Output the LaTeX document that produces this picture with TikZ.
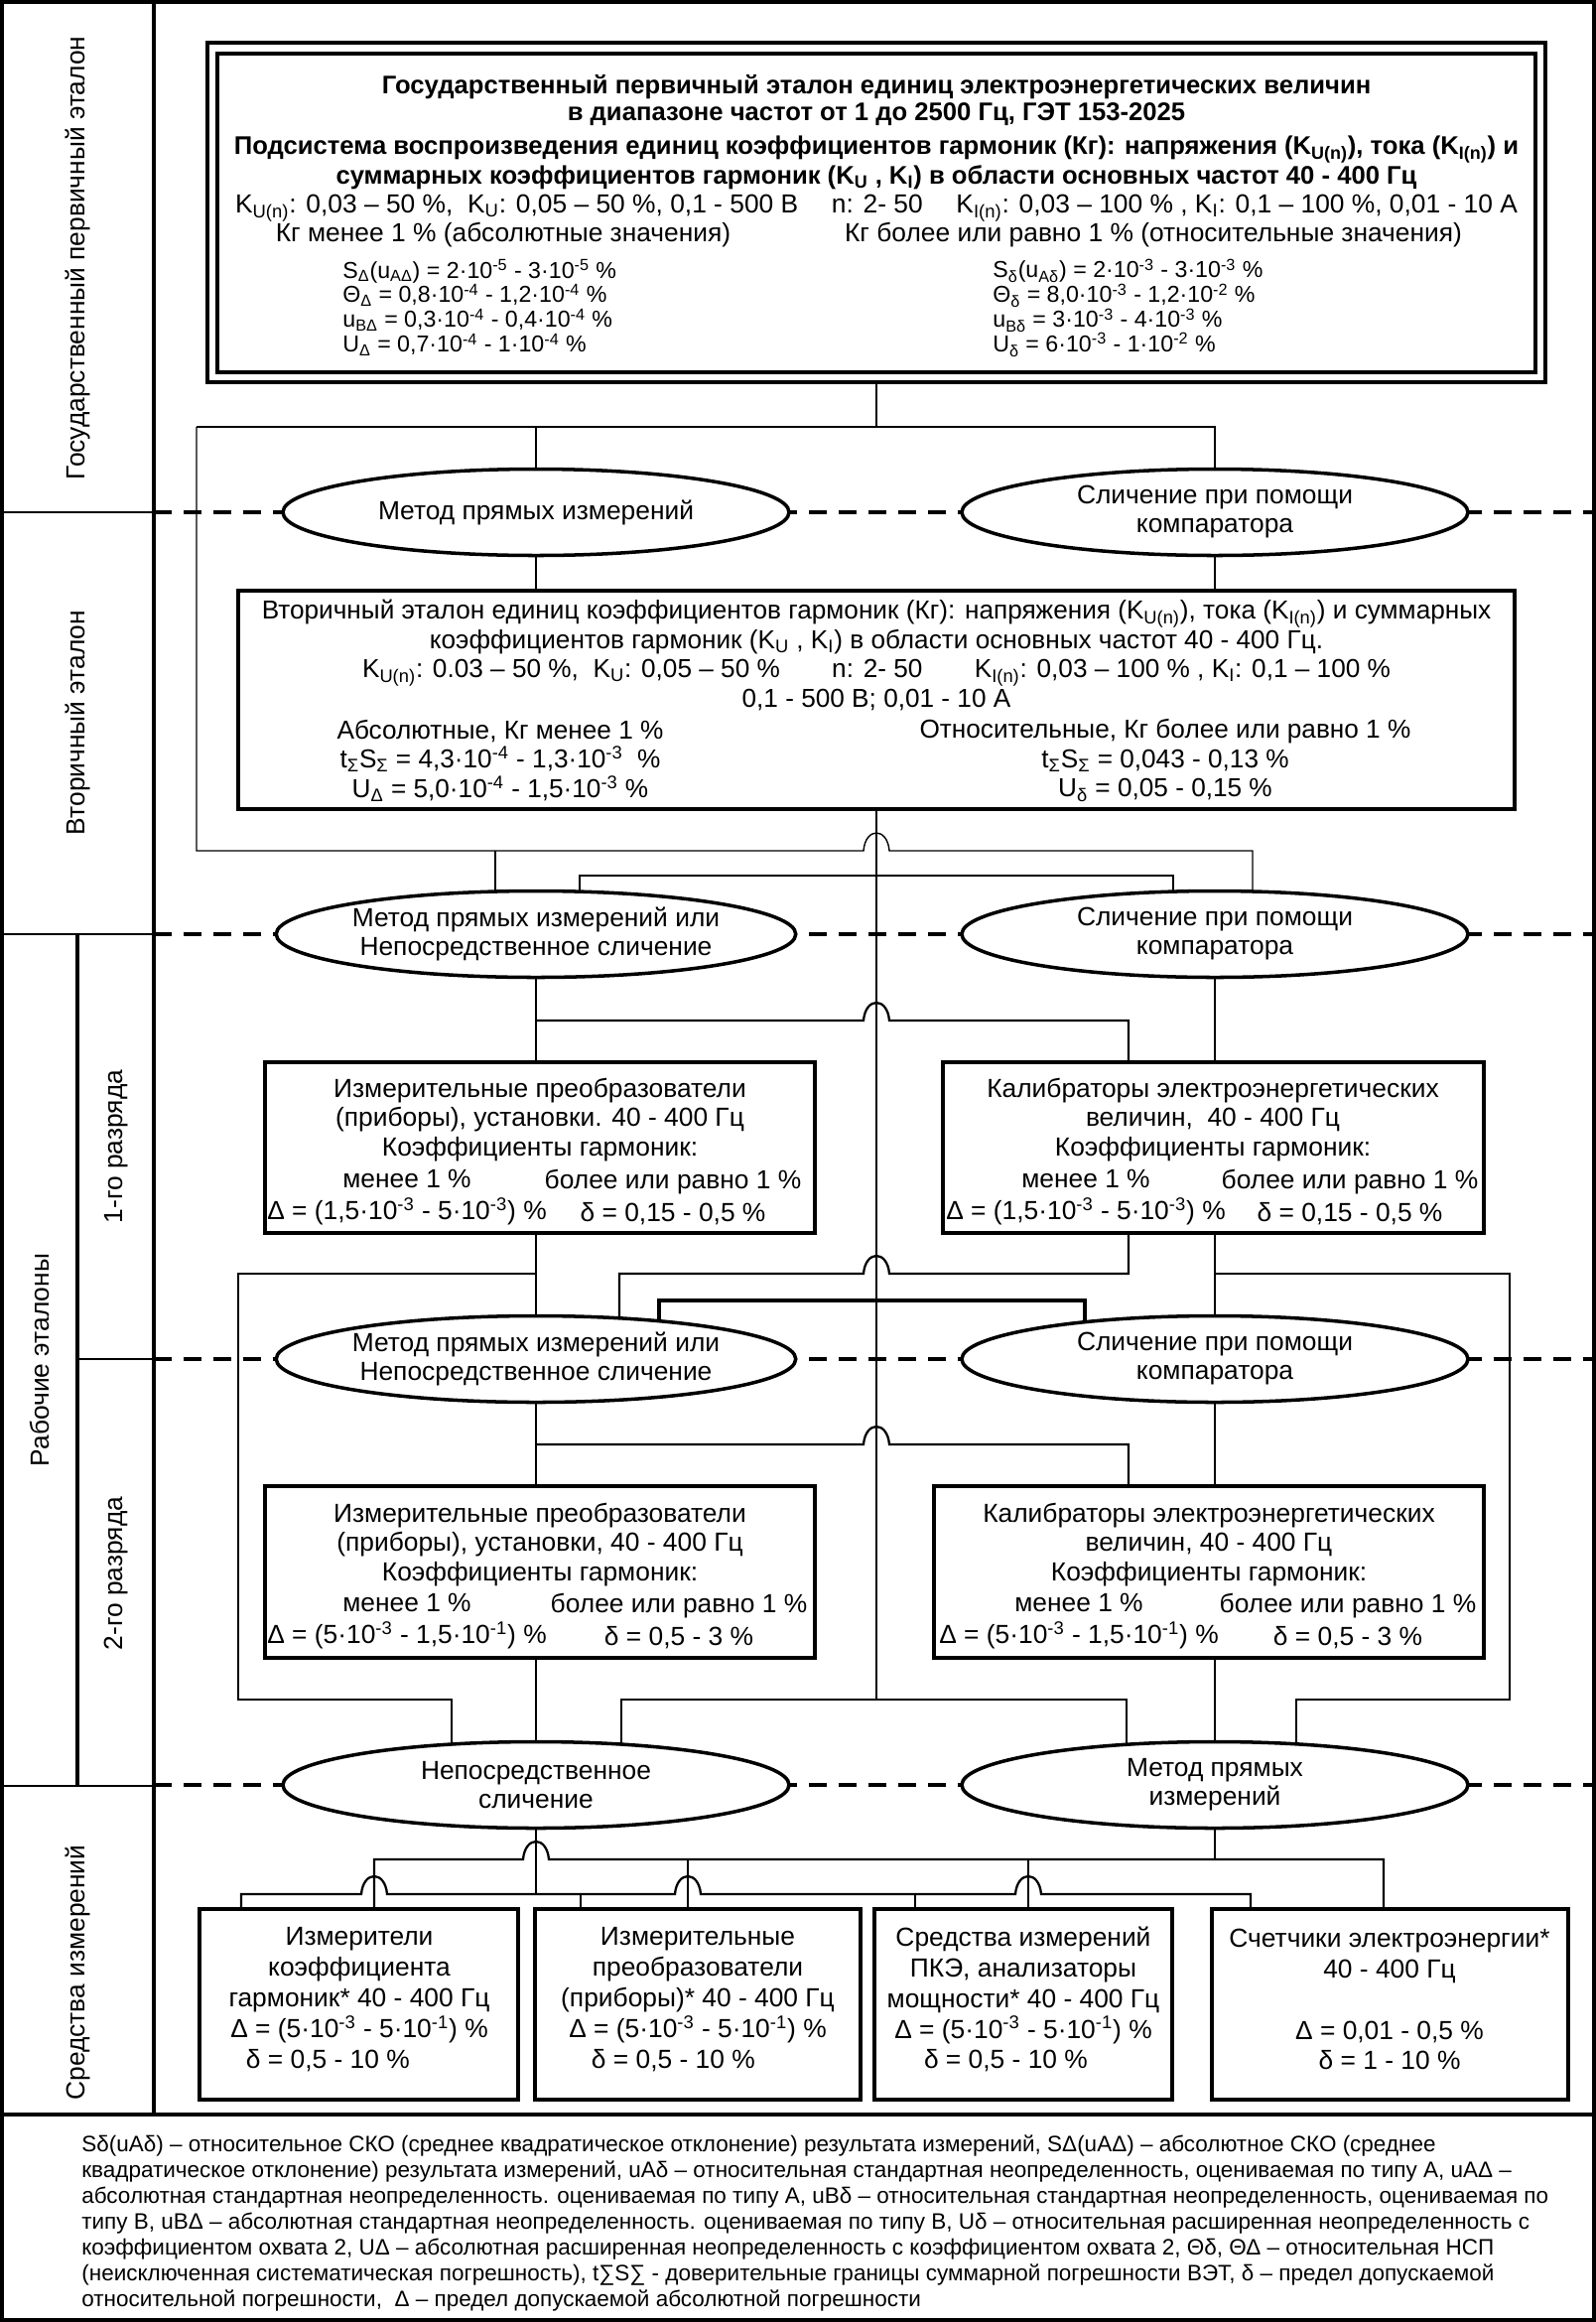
\documentclass[tikz,border=0pt]{standalone}
\usepackage{fontspec}
\setmainfont{Liberation Sans}
\usepackage{tikz}
\usetikzlibrary{calc,positioning,shapes.geometric,fit,backgrounds}

\newcommand{\supr}[1]{\textsuperscript{#1}}
\newcommand{\subr}[1]{\textsubscript{#1}}
% bridge of a horizontal line over a vertical one at (#1,#2)
\newcommand{\hopx}[2]{-- ({#1-13},#2) .. controls ({#1-11},{#2-24}) and ({#1+11},{#2-24}) .. ({#1+13},#2)}

\begin{document}
\begin{tikzpicture}[x=0.2mm, y=-0.2mm,
    every node/.style={inner sep=0pt, font=\fontsize{15}{17}\selectfont},
    txt/.style={align=center},
    stdbox/.style={draw, line width=2.4pt, fill=white},
    method/.style={draw, ellipse, line width=2pt, fill=white, align=center,
        minimum width=102mm, minimum height=17.4mm, font=\fontsize{15}{16.5}\selectfont},
    level/.style={rotate=90, font=\fontsize{15}{17}\selectfont},
    link/.style={line width=0.8pt},
    bus/.style={line width=1.3pt},
    boldbus/.style={line width=2pt},
    rowsep/.style={line width=2pt, dash pattern=on 3.6mm off 2.4mm},
    outline/.style={line width=1.8pt}]

    \useasboundingbox (0,0) rectangle (1608,2339);

    % table frame
    \draw[outline] (2,2) rectangle (1606,2337);
    \draw[line width=2.6pt] (155,0) -- (155,2130);
    \draw[line width=2.6pt] (0,2130) -- (1608,2130);
    \draw[link] (0,516) -- (155,516);
    \draw[link] (0,941) -- (155,941);
    \draw[link] (0,1799) -- (155,1799);
    \draw[link] (78,1369) -- (155,1369);
    \draw[line width=2.6pt] (78,941) -- (78,1799);

    % level labels
    \node[level] (lvP) at (78,260) {Государственный первичный эталон};
    \node[level] (lvS) at (78,728) {Вторичный эталон};
    \node[level] (lvW) at (40,1370) {Рабочие эталоны};
    \node[level] (lv1) at (117,1155) {1-го разряда};
    \node[level] (lv2) at (117,1585) {2-го разряда};
    \node[level] (lvM) at (78,1987) {Средства измерений};

    % primary standard
    \node[draw, outline, fill=white, fit={(209,43) (1557,385)}] (Pout) {};
    \node[stdbox, fit={(219,54) (1547,375)}] (P) {};
    \node[txt, font=\bfseries\fontsize{14.6}{15.2}\selectfont] (Ptitle) at (883,101)
        {Государственный первичный эталон единиц электроэнергетических величин\\
         в диапазоне частот от 1 до 2500 Гц, ГЭТ 153-2025};
    \node[txt, font=\bfseries\fontsize{14.6}{16.8}\selectfont] (Psub) at (883,164)
        {Подсистема воспроизведения единиц коэффициентов гармоник (Кг): напряжения (K\subr{U(n)}), тока (K\subr{I(n)}) и\\
         суммарных коэффициентов гармоник (K\subr{U} , K\subr{I}) в области основных частот 40 - 400 Гц};
    \node[font=\fontsize{15}{16}\selectfont] (Prng) at (883,210)
        {K\subr{U(n)}: 0,03 – 50 \%,\ \ K\subr{U}: 0,05 – 50 \%, 0,1 - 500 В\quad\ n: 2- 50\quad\ K\subr{I(n)}: 0,03 – 100 \% , K\subr{I}: 0,1 – 100 \%, 0,01 - 10 А};
    \node[font=\fontsize{15}{16}\selectfont] (Pabs) at (507,237) {Кг менее 1 \% (абсолютные значения)};
    \node[font=\fontsize{15}{16}\selectfont] (Prel) at (1162,237) {Кг более или равно 1 \% (относительные значения)};
    \node[anchor=west, align=left, font=\fontsize{13.2}{14.2}\selectfont] (Pabsv) at (345,310)
        {S\subr{Δ}(u\subr{AΔ}) = 2·10\supr{-5} - 3·10\supr{-5} \%\\
         Θ\subr{Δ} = 0,8·10\supr{-4} - 1,2·10\supr{-4} \%\\
         u\subr{BΔ} = 0,3·10\supr{-4} - 0,4·10\supr{-4} \%\\
         U\subr{Δ} = 0,7·10\supr{-4} - 1·10\supr{-4} \%};
    \node[anchor=west, align=left, font=\fontsize{13.2}{14.2}\selectfont] (Prelv) at (1000,310)
        {S\subr{δ}(u\subr{Aδ}) = 2·10\supr{-3} - 3·10\supr{-3} \%\\
         Θ\subr{δ} = 8,0·10\supr{-3} - 1,2·10\supr{-2} \%\\
         u\subr{Bδ} = 3·10\supr{-3} - 4·10\supr{-3} \%\\
         U\subr{δ} = 6·10\supr{-3} - 1·10\supr{-2} \%};

    % secondary standard
    \node[stdbox, fit={(240,595) (1526,815)}] (S) {};
    \node[txt, font=\fontsize{14.9}{16.8}\selectfont] (Stitle) at (883,660)
        {Вторичный эталон единиц коэффициентов гармоник (Кг): напряжения (K\subr{U(n)}), тока (K\subr{I(n)}) и суммарных\\
         коэффициентов гармоник (K\subr{U} , K\subr{I}) в области основных частот 40 - 400 Гц.\\
         K\subr{U(n)}: 0.03 – 50 \%,\ \ K\subr{U}: 0,05 – 50 \%\qquad n: 2- 50\qquad K\subr{I(n)}: 0,03 – 100 \% , K\subr{I}: 0,1 – 100 \%\\
         0,1 - 500 В; 0,01 - 10 А};
    \node[txt, font=\fontsize{14.9}{16.8}\selectfont] (Sabs) at (504,766)
        {Абсолютные, Кг менее 1 \%\\
         t\subr{Σ}S\subr{Σ} = 4,3·10\supr{-4} - 1,3·10\supr{-3}\ \ \%\\
         U\subr{Δ} = 5,0·10\supr{-4} - 1,5·10\supr{-3} \%};
    \node[txt, font=\fontsize{14.9}{16.8}\selectfont] (Srel) at (1174,766)
        {Относительные, Кг более или равно 1 \%\\
         t\subr{Σ}S\subr{Σ} = 0,043 - 0,13 \%\\
         U\subr{δ} = 0,05 - 0,15 \%};

    % transfer methods
    \node[method] (A1) at (540,516) {Метод прямых измерений};
    \node[method] (B1) at (1224,516) {Сличение при помощи\\компаратора};
    \node[method] (A2) at (540,941) {Метод прямых измерений или\\Непосредственное сличение};
    \node[method] (B2) at (1224,941) {Сличение при помощи\\компаратора};
    \node[method] (A3) at (540,1369) {Метод прямых измерений или\\Непосредственное сличение};
    \node[method] (B3) at (1224,1369) {Сличение при помощи\\компаратора};
    \node[method] (A4) at (540,1798) {Непосредственное\\сличение};
    \node[method] (B4) at (1224,1798) {Метод прямых\\измерений};

    % working standards, 1st grade
    \node[stdbox, fit={(267,1070) (821,1242)}] (W1a) {};
    \node[stdbox, fit={(950,1070) (1495,1242)}] (W1b) {};
    \node[txt] (W1aT) at (544,1128)
        {Измерительные преобразователи\\(приборы), установки. 40 - 400 Гц\\Коэффициенты гармоник:};
    \node[txt, font=\fontsize{15}{18.5}\selectfont] (W1aL) at (410,1206)
        {менее 1 \%\\Δ = (1,5·10\supr{-3} - 5·10\supr{-3}) \%};
    \node[txt, font=\fontsize{15}{18.5}\selectfont] (W1aR) at (678,1206)
        {более или равно 1 \%\\δ = 0,15 - 0,5 \%};
    \node[txt] (W1bT) at (1222,1128)
        {Калибраторы электроэнергетических\\величин,\ \ 40 - 400 Гц\\Коэффициенты гармоник:};
    \node[txt, font=\fontsize{15}{18.5}\selectfont] (W1bL) at (1094,1206)
        {менее 1 \%\\Δ = (1,5·10\supr{-3} - 5·10\supr{-3}) \%};
    \node[txt, font=\fontsize{15}{18.5}\selectfont] (W1bR) at (1360,1206)
        {более или равно 1 \%\\δ = 0,15 - 0,5 \%};

    % working standards, 2nd grade
    \node[stdbox, fit={(267,1497) (821,1670)}] (W2a) {};
    \node[stdbox, fit={(941,1497) (1495,1670)}] (W2b) {};
    \node[txt] (W2aT) at (544,1556)
        {Измерительные преобразователи\\(приборы), установки, 40 - 400 Гц\\Коэффициенты гармоник:};
    \node[txt, font=\fontsize{15}{18.5}\selectfont] (W2aL) at (410,1633)
        {менее 1 \%\\Δ = (5·10\supr{-3} - 1,5·10\supr{-1}) \%};
    \node[txt, font=\fontsize{15}{18.5}\selectfont] (W2aR) at (684,1633)
        {более или равно 1 \%\\δ = 0,5 - 3 \%};
    \node[txt] (W2bT) at (1218,1556)
        {Калибраторы электроэнергетических\\величин, 40 - 400 Гц\\Коэффициенты гармоник:};
    \node[txt, font=\fontsize{15}{18.5}\selectfont] (W2bL) at (1087,1633)
        {менее 1 \%\\Δ = (5·10\supr{-3} - 1,5·10\supr{-1}) \%};
    \node[txt, font=\fontsize{15}{18.5}\selectfont] (W2bR) at (1358,1633)
        {более или равно 1 \%\\δ = 0,5 - 3 \%};

    % measuring instruments
    \node[stdbox, fit={(201,1923) (522,2115)}] (M1) {};
    \node[stdbox, fit={(539,1923) (867,2115)}] (M2) {};
    \node[stdbox, fit={(881,1923) (1181,2115)}] (M3) {};
    \node[stdbox, fit={(1221,1923) (1580,2115)}] (M4) {};
    \node[txt, font=\fontsize{15}{17.6}\selectfont] (M1T) at (362,2014)
        {Измерители\\коэффициента\\гармоник* 40 - 400 Гц\\Δ = (5·10\supr{-3} - 5·10\supr{-1}) \%\\δ = 0,5 - 10 \%\hspace*{36pt}};
    \node[txt, font=\fontsize{15}{17.6}\selectfont] (M2T) at (703,2014)
        {Измерительные\\преобразователи\\(приборы)* 40 - 400 Гц\\Δ = (5·10\supr{-3} - 5·10\supr{-1}) \%\\δ = 0,5 - 10 \%\hspace*{28pt}};
    \node[txt, font=\fontsize{15}{17.6}\selectfont] (M3T) at (1031,2014)
        {Средства измерений\\ПКЭ, анализаторы\\мощности* 40 - 400 Гц\\Δ = (5·10\supr{-3} - 5·10\supr{-1}) \%\\δ = 0,5 - 10 \%\hspace*{20pt}};
    \node[txt, font=\fontsize{15}{17.6}\selectfont] (M4T) at (1400,2014)
        {Счетчики электроэнергии*\\40 - 400 Гц\\[17.6pt]Δ = 0,01 - 0,5 \%\\δ = 1 - 10 \%};

    % legend
    \node[anchor=north west, align=left, font=\fontsize{12.8}{14.8}\selectfont] (note) at (82,2150)
        {Sδ(uAδ) – относительное СКО (среднее квадратическое отклонение) результата измерений, SΔ(uAΔ) – абсолютное СКО (среднее\\
         квадратическое отклонение) результата измерений, uAδ – относительная стандартная неопределенность, оцениваемая по типу А, uAΔ –\\
         абсолютная стандартная неопределенность. оцениваемая по типу А, uBδ – относительная стандартная неопределенность, оцениваемая по\\
         типу В, uBΔ – абсолютная стандартная неопределенность. оцениваемая по типу В, Uδ – относительная расширенная неопределенность с\\
         коэффициентом охвата 2, UΔ – абсолютная расширенная неопределенность с коэффициентом охвата 2, Θδ, ΘΔ – относительная НСП\\
         (неисключенная систематическая погрешность), t∑S∑ - доверительные границы суммарной погрешности ВЭТ, δ – предел допускаемой\\
         относительной погрешности,\ \ Δ – предел допускаемой абсолютной погрешности};

    \begin{pgfonlayer}{background}
        % level borders
        \draw[rowsep] (155,516) -- (1608,516);
        \draw[rowsep] (155,941) -- (1608,941);
        \draw[rowsep] (155,1369) -- (1608,1369);
        \draw[rowsep] (155,1798) -- (1608,1798);

        % primary -> methods
        \coordinate (pJ) at (883,430);
        \coordinate (pL) at (198,430);
        \draw[link] (Pout.south) -- (pJ);
        \draw[link] (pL) -- (pJ -| B1) -- (B1.center);
        \draw[link] (pJ -| A1) -- (A1.center);
        \draw[link] (A1.center) -- (A1 |- S.north);
        \draw[link] (B1.center) -- (B1 |- S.north);
        \draw[link] (pL) -- (198,857) \hopx{883}{857} -- (1262,857) -- (1262,941);
        \draw[link] (499,857) -- (499,941);

        % secondary -> methods (central line)
        \draw[link] (S.south) -- (883,1712);
        \draw[link] (584,941) -- (584,882) -- (1182,882) -- (1182,941);

        % 1st grade
        \draw[bus] (A2.center) -- (A2 |- W1a.north);
        \draw[bus] (B2.center) -- (B2 |- W1b.north);
        \draw[bus] (540,1028) \hopx{883}{1028} -- (1137,1028) -- (1137,1070);

        % 1st grade -> methods of the 2nd grade
        \draw[bus] (540,1242) -- (A3.center);
        \draw[bus] (1224,1242) -- (B3.center);
        \draw[bus] (540,1283) -- (240,1283) -- (240,1712) -- (455,1712) -- (455,1798);
        \draw[bus] (624,1369) -- (624,1283) \hopx{883}{1283} -- (1137,1283) -- (1137,1242);
        \draw[bus] (1224,1283) -- (1521,1283) -- (1521,1712) -- (1306,1712) -- (1306,1798);
        \draw[boldbus] (664,1369) -- (664,1310) -- (1093,1310) -- (1093,1369);

        % 2nd grade
        \draw[bus] (A3.center) -- (A3 |- W2a.north);
        \draw[bus] (B3.center) -- (B3 |- W2b.north);
        \draw[bus] (540,1455) \hopx{883}{1455} -- (1137,1455) -- (1137,1497);
        \draw[bus] (540,1670) -- (A4.center);
        \draw[bus] (1224,1670) -- (B4.center);
        \draw[bus] (626,1798) -- (626,1712) -- (1135,1712) -- (1135,1798);

        % methods -> measuring instruments
        \draw[bus] (A4.center) -- (540,1908);
        \draw[bus] (B4.center) -- (1224,1873);
        \draw[bus] (377,1923) -- (377,1873) \hopx{540}{1873} -- (1394,1873) -- (1394,1923);
        \draw[bus] (693,1873) -- (693,1923);
        \draw[bus] (1036,1873) -- (1036,1923);
        \draw[bus] (243,1923) -- (243,1908) \hopx{377}{1908} \hopx{693}{1908} \hopx{1036}{1908} -- (1260,1908) -- (1260,1923);
        \draw[bus] (585,1908) -- (585,1923);
        \draw[bus] (922,1908) -- (922,1923);
    \end{pgfonlayer}
\end{tikzpicture}
\end{document}
